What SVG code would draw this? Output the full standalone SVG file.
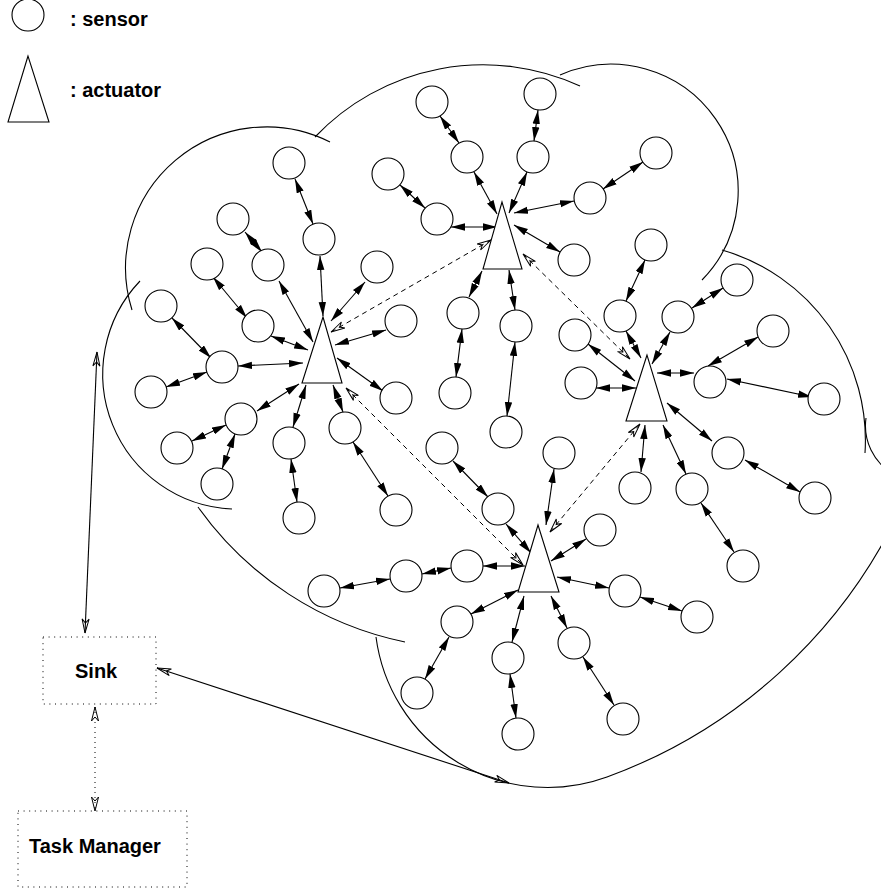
<svg xmlns="http://www.w3.org/2000/svg" width="881" height="890" viewBox="0 0 881 890">
  <style>
    .bg { fill: #ffffff; }
    .sensor { fill: #ffffff; stroke: #000; stroke-width: 1.1; }
    .actuator { fill: #ffffff; stroke: #000; stroke-width: 1.1; }
    .cloud { fill: none; stroke: #000; stroke-width: 1.1; }
    .link { fill: none; stroke: #000; stroke-width: 1.1; marker-start: url(#hf); marker-end: url(#hf); }
    .radio { fill: none; stroke: #000; stroke-width: 1; stroke-dasharray: 5 4; marker-start: url(#ho); marker-end: url(#ho); }
    .uplink { fill: none; stroke: #000; stroke-width: 1.1; marker-start: url(#ho); marker-end: url(#ho); }
    .dotted { fill: none; stroke: #000; stroke-width: 1; stroke-dasharray: 1 4.6; }
    .dotlink { fill: none; stroke: #000; stroke-width: 1; stroke-dasharray: 1 4; marker-start: url(#ho); marker-end: url(#ho); }
    .lbl { font-family: "Liberation Sans", Arial, Helvetica, sans-serif; font-weight: bold; font-size: 20px; fill: #000; }
  </style>
  <defs>
    <marker id="hf" viewBox="0 0 14 8" refX="14" refY="4" markerWidth="14" markerHeight="8" markerUnits="userSpaceOnUse" orient="auto-start-reverse">
      <path d="M0,0.3 L14,4 L0,7.7 Z" fill="#000"/>
    </marker>
    <marker id="ho" viewBox="-1 -1 16 9" refX="14" refY="3.5" markerWidth="16" markerHeight="9" markerUnits="userSpaceOnUse" orient="auto-start-reverse">
      <path d="M0,0 L14,3.5 L0,7 L4,3.5 Z" fill="none" stroke="#000" stroke-width="1"/>
    </marker>
  </defs>

  <rect class="bg" x="0" y="0" width="881" height="890"/>

  <!-- legend -->
  <g id="legend">
    <circle class="sensor" cx="28" cy="15" r="16"/>
    <text class="lbl" x="70" y="26">: sensor</text>
    <polygon class="actuator" points="28,56 8,122 49,122"/>
    <text class="lbl" x="70" y="97">: actuator</text>
  </g>

  <!-- cloud outline of the sensor/actuator field -->
  <g id="cloud">
    <path class="cloud" d="M132,310 A141,141 0 0 1 330,142"/>
    <path class="cloud" d="M315,137 A232,232 0 0 1 580,86"/>
    <path class="cloud" d="M560,75 A127,127 0 0 1 702,280"/>
    <path class="cloud" d="M722,250 A198,198 0 0 1 865,453"/>
    <path class="cloud" d="M866,418 A56,56 0 0 0 893,474"/>
    <path class="cloud" d="M376,637 A173,173 0 0 0 607,777 A523,523 0 0 0 900,510"/>
    <path class="cloud" d="M198,507 A337,337 0 0 0 405,642"/>
    <path class="cloud" d="M140,281 A135,135 0 0 0 232,509"/>
  </g>

  <!-- connectors -->
  <g id="connectors">
    <!-- actuator A1 cluster -->
    <line class="link" x1="295" y1="179" x2="313" y2="224"/>
    <line class="link" x1="245" y1="232" x2="262" y2="252"/>
    <line class="link" x1="320" y1="256" x2="323" y2="316"/>
    <line class="link" x1="365" y1="282" x2="331" y2="321"/>
    <line class="link" x1="279" y1="281" x2="313" y2="342"/>
    <line class="link" x1="213" y1="277" x2="247" y2="318"/>
    <line class="link" x1="271" y1="336" x2="308" y2="350"/>
    <line class="link" x1="386" y1="330" x2="335" y2="345"/>
    <line class="link" x1="172" y1="318" x2="211" y2="358"/>
    <line class="link" x1="238" y1="366" x2="303" y2="363"/>
    <line class="link" x1="166" y1="387" x2="207" y2="372"/>
    <line class="link" x1="257" y1="411" x2="299" y2="384"/>
    <line class="link" x1="192" y1="441" x2="226" y2="425"/>
    <line class="link" x1="222" y1="469" x2="235" y2="434"/>
    <line class="link" x1="293" y1="427" x2="306" y2="385"/>
    <line class="link" x1="343" y1="412" x2="333" y2="385"/>
    <line class="link" x1="383" y1="391" x2="337" y2="358"/>
    <line class="link" x1="291" y1="459" x2="297" y2="502"/>
    <line class="link" x1="353" y1="442" x2="388" y2="496"/>

    <!-- actuator A2 cluster -->
    <line class="link" x1="440" y1="116" x2="459" y2="143"/>
    <line class="link" x1="538" y1="110" x2="534" y2="141"/>
    <line class="link" x1="474" y1="172" x2="497" y2="214"/>
    <line class="link" x1="527" y1="172" x2="509" y2="213"/>
    <line class="link" x1="574" y1="201" x2="514" y2="213"/>
    <line class="link" x1="560" y1="252" x2="514" y2="225"/>
    <line class="link" x1="451" y1="227" x2="497" y2="227"/>
    <line class="link" x1="400" y1="185" x2="425" y2="208"/>
    <line class="link" x1="643" y1="162" x2="603" y2="189"/>
    <line class="link" x1="645" y1="260" x2="626" y2="301"/>
    <line class="link" x1="482" y1="271" x2="469" y2="297"/>
    <line class="link" x1="509" y1="270" x2="515" y2="310"/>
    <line class="link" x1="462" y1="329" x2="456" y2="377"/>
    <line class="link" x1="515" y1="342" x2="507" y2="416"/>

    <!-- actuator A3 cluster -->
    <line class="link" x1="723" y1="288" x2="692" y2="308"/>
    <line class="link" x1="670" y1="332" x2="652" y2="364"/>
    <line class="link" x1="626" y1="331" x2="641" y2="358"/>
    <line class="link" x1="588" y1="344" x2="635" y2="381"/>
    <line class="link" x1="596" y1="388" x2="636" y2="388"/>
    <line class="link" x1="694" y1="373" x2="657" y2="373"/>
    <line class="link" x1="758" y1="337" x2="708" y2="366"/>
    <line class="link" x1="727" y1="379" x2="812" y2="397"/>
    <line class="link" x1="667" y1="403" x2="712" y2="441"/>
    <line class="link" x1="745" y1="460" x2="800" y2="492"/>
    <line class="link" x1="645" y1="425" x2="641" y2="472"/>
    <line class="link" x1="663" y1="425" x2="686" y2="474"/>
    <line class="link" x1="701" y1="503" x2="734" y2="552"/>

    <!-- actuator A4 cluster -->
    <line class="link" x1="453" y1="461" x2="488" y2="497"/>
    <line class="link" x1="554" y1="469" x2="546" y2="525"/>
    <line class="link" x1="506" y1="524" x2="531" y2="553"/>
    <line class="link" x1="483" y1="566" x2="525" y2="566"/>
    <line class="link" x1="422" y1="574" x2="451" y2="568"/>
    <line class="link" x1="340" y1="588" x2="390" y2="579"/>
    <line class="link" x1="586" y1="539" x2="551" y2="561"/>
    <line class="link" x1="609" y1="588" x2="557" y2="577"/>
    <line class="link" x1="640" y1="597" x2="682" y2="611"/>
    <line class="link" x1="471" y1="614" x2="518" y2="590"/>
    <line class="link" x1="425" y1="679" x2="449" y2="637"/>
    <line class="link" x1="512" y1="642" x2="524" y2="596"/>
    <line class="link" x1="510" y1="674" x2="516" y2="718"/>
    <line class="link" x1="551" y1="596" x2="567" y2="628"/>
    <line class="link" x1="583" y1="657" x2="614" y2="705"/>

    <!-- actuator-to-actuator links -->
    <line class="radio" x1="331" y1="332" x2="491" y2="240"/>
    <line class="radio" x1="523" y1="254" x2="630" y2="359"/>
    <line class="radio" x1="346" y1="388" x2="523" y2="565"/>
    <line class="radio" x1="550" y1="532" x2="640" y2="424"/>

    <!-- sink links -->
    <line class="uplink" x1="97" y1="352" x2="85" y2="633"/>
    <line class="uplink" x1="157" y1="668" x2="509" y2="783"/>
    <line class="dotlink" x1="95" y1="707" x2="95" y2="811"/>
  </g>

  <!-- actuators -->
  <g id="A1"><polygon class="actuator" points="323,317 302,383 342,383"/></g>
  <g id="A2"><polygon class="actuator" points="502,202 483,269 522,269"/></g>
  <g id="A3"><polygon class="actuator" points="647,355 626,421 667,421"/></g>
  <g id="A4"><polygon class="actuator" points="538,525 518,592 559,592"/></g>

  <!-- sensors -->
  <g id="s1"><circle class="sensor" cx="289" cy="163" r="16"/></g>
  <g id="s2"><circle class="sensor" cx="233" cy="219" r="16"/></g>
  <g id="s3"><circle class="sensor" cx="319" cy="239" r="16"/></g>
  <g id="s4"><circle class="sensor" cx="268" cy="265" r="16"/></g>
  <g id="s5"><circle class="sensor" cx="207" cy="264" r="16"/></g>
  <g id="s6"><circle class="sensor" cx="377" cy="267" r="16"/></g>
  <g id="s7"><circle class="sensor" cx="161" cy="306" r="16"/></g>
  <g id="s8"><circle class="sensor" cx="258" cy="326" r="16"/></g>
  <g id="s9"><circle class="sensor" cx="401" cy="321" r="16"/></g>
  <g id="s10"><circle class="sensor" cx="222" cy="367" r="16"/></g>
  <g id="s11"><circle class="sensor" cx="151" cy="392" r="16"/></g>
  <g id="s12"><circle class="sensor" cx="241" cy="419" r="16"/></g>
  <g id="s13"><circle class="sensor" cx="177" cy="448" r="16"/></g>
  <g id="s14"><circle class="sensor" cx="217" cy="484" r="16"/></g>
  <g id="s15"><circle class="sensor" cx="289" cy="443" r="16"/></g>
  <g id="s16"><circle class="sensor" cx="345" cy="428" r="16"/></g>
  <g id="s17"><circle class="sensor" cx="299" cy="518" r="16"/></g>
  <g id="s18"><circle class="sensor" cx="396" cy="510" r="16"/></g>
  <g id="s19"><circle class="sensor" cx="396" cy="398" r="16"/></g>
  <g id="s20"><circle class="sensor" cx="432" cy="102" r="16"/></g>
  <g id="s21"><circle class="sensor" cx="540" cy="94" r="16"/></g>
  <g id="s22"><circle class="sensor" cx="467" cy="157" r="16"/></g>
  <g id="s23"><circle class="sensor" cx="533" cy="157" r="16"/></g>
  <g id="s24"><circle class="sensor" cx="388" cy="174" r="16"/></g>
  <g id="s25"><circle class="sensor" cx="437" cy="219" r="16"/></g>
  <g id="s26"><circle class="sensor" cx="590" cy="198" r="16"/></g>
  <g id="s27"><circle class="sensor" cx="656" cy="153" r="16"/></g>
  <g id="s28"><circle class="sensor" cx="574" cy="260" r="16"/></g>
  <g id="s29"><circle class="sensor" cx="651" cy="245" r="16"/></g>
  <g id="s30"><circle class="sensor" cx="463" cy="313" r="16"/></g>
  <g id="s31"><circle class="sensor" cx="516" cy="326" r="16"/></g>
  <g id="s32"><circle class="sensor" cx="455" cy="393" r="16"/></g>
  <g id="s33"><circle class="sensor" cx="506" cy="432" r="16"/></g>
  <g id="s34"><circle class="sensor" cx="737" cy="280" r="16"/></g>
  <g id="s35"><circle class="sensor" cx="678" cy="317" r="16"/></g>
  <g id="s36"><circle class="sensor" cx="620" cy="316" r="16"/></g>
  <g id="s37"><circle class="sensor" cx="575" cy="335" r="16"/></g>
  <g id="s38"><circle class="sensor" cx="581" cy="383" r="16"/></g>
  <g id="s39"><circle class="sensor" cx="773" cy="331" r="16"/></g>
  <g id="s40"><circle class="sensor" cx="710" cy="382" r="16"/></g>
  <g id="s41"><circle class="sensor" cx="824" cy="399" r="16"/></g>
  <g id="s42"><circle class="sensor" cx="728" cy="453" r="16"/></g>
  <g id="s43"><circle class="sensor" cx="815" cy="498" r="16"/></g>
  <g id="s44"><circle class="sensor" cx="635" cy="488" r="16"/></g>
  <g id="s45"><circle class="sensor" cx="692" cy="489" r="16"/></g>
  <g id="s46"><circle class="sensor" cx="743" cy="566" r="16"/></g>
  <g id="s47"><circle class="sensor" cx="442" cy="448" r="16"/></g>
  <g id="s48"><circle class="sensor" cx="498" cy="509" r="16"/></g>
  <g id="s49"><circle class="sensor" cx="559" cy="453" r="16"/></g>
  <g id="s50"><circle class="sensor" cx="467" cy="566" r="16"/></g>
  <g id="s51"><circle class="sensor" cx="406" cy="576" r="16"/></g>
  <g id="s52"><circle class="sensor" cx="324" cy="591" r="16"/></g>
  <g id="s53"><circle class="sensor" cx="600" cy="530" r="16"/></g>
  <g id="s54"><circle class="sensor" cx="625" cy="591" r="16"/></g>
  <g id="s55"><circle class="sensor" cx="697" cy="617" r="16"/></g>
  <g id="s56"><circle class="sensor" cx="457" cy="622" r="16"/></g>
  <g id="s57"><circle class="sensor" cx="417" cy="693" r="16"/></g>
  <g id="s58"><circle class="sensor" cx="508" cy="658" r="16"/></g>
  <g id="s59"><circle class="sensor" cx="518" cy="734" r="16"/></g>
  <g id="s60"><circle class="sensor" cx="574" cy="643" r="16"/></g>
  <g id="s61"><circle class="sensor" cx="623" cy="719" r="16"/></g>

  <!-- sink and task manager -->
  <g id="sink">
    <rect class="dotted" x="43" y="637" width="113" height="67"/>
    <text class="lbl" x="75" y="678">Sink</text>
  </g>
  <g id="task-manager">
    <rect class="dotted" x="18" y="811" width="169" height="76"/>
    <text class="lbl" x="29" y="853">Task Manager</text>
  </g>
</svg>
